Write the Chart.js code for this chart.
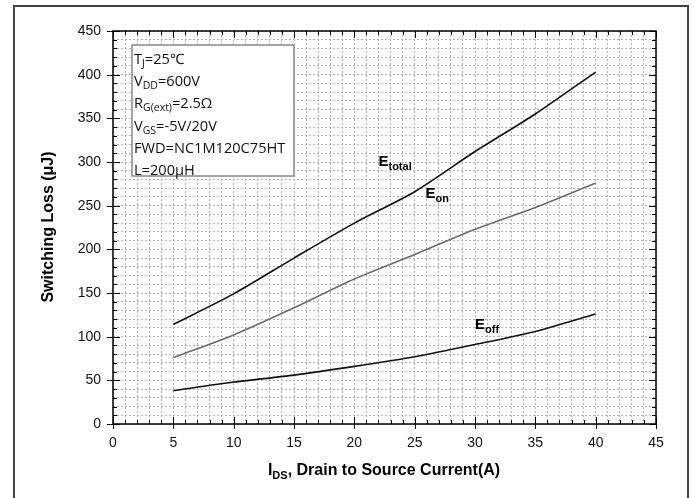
<!DOCTYPE html>
<html>
<head>
<meta charset="utf-8">
<script src="https://cdn.jsdelivr.net/npm/chart.js@4.4.0/dist/chart.umd.min.js"></script>
<style>
  html, body { margin: 0; padding: 0; background: #fff; }
  #wrap { position: relative; width: 695px; height: 498px; }
</style>
</head>
<body>
<div id="wrap"><canvas id="lossChart" width="695" height="498"></canvas></div>
<script>
// drain current (A)
const currents = [5, 10, 15, 20, 25, 30, 35, 40];
// switching losses (uJ)
const eTotal = [114, 149, 190, 230, 266, 312, 355, 403];
const eOn = [76, 102, 133, 166, 194, 223, 248, 276];
const eOff = [38, 48, 56, 66, 77, 91, 106, 126];
const xTickLabels = ["0", "5", "10", "15", "20", "25", "30", "35", "40", "45"];
const yTickLabels = ["0", "50", "100", "150", "200", "250", "300", "350", "400", "450"];
const conditions = [
	[["T", 0], ["J", 1], ["=25℃", 0]],
	[["V", 0], ["DD", 1], ["=600V", 0]],
	[["R", 0], ["G(ext)", 1], ["=2.5Ω", 0]],
	[["V", 0], ["GS", 1], ["=-5V/20V", 0]],
	[["FWD=NC1M120C75HT", 0]],
	[["L=200μH", 0]],
];
// curve name labels, placed in data coords [x, y]
const curveLabels = [
	{ parts: [["E", 0], ["total", 1]], at: [22, 295] },
	{ parts: [["E", 0], ["on", 1]], at: [25.9, 259] },
	{ parts: [["E", 0], ["off", 1]], at: [30, 109] },
];

function toPoints(ys) {
	return currents.map((x, i) => ({ x: x, y: ys[i] }));
}

// draws text made of normal / subscript pieces
function drawRich(ctx, parts, x, y, size, subSize, weight, family, drop) {
	let cx = x;
	for (const [txt, sub] of parts) {
		ctx.font = `${weight} ${sub ? subSize : size}px ${family}`;
		ctx.fillText(txt, cx, sub ? y + drop : y);
		cx += ctx.measureText(txt).width;
	}
	return cx - x;
}
function richWidth(ctx, parts, size, subSize, weight, family) {
	let w = 0;
	for (const [txt, sub] of parts) {
		ctx.font = `${weight} ${sub ? subSize : size}px ${family}`;
		w += ctx.measureText(txt).width;
	}
	return w;
}

const decorations = {
	id: "decorations",
	afterDraw(chart) {
		const { ctx, chartArea: { top, bottom, left, right }, scales: { x, y } } = chart;
		ctx.save();
		// outer frame
		ctx.strokeStyle = "#444";
		ctx.lineWidth = 2;
		ctx.strokeRect(14, 6, 674, 500);

		// inside tick marks on all four sides
		ctx.strokeStyle = "#000";
		ctx.lineWidth = 1;
		ctx.beginPath();
		for (let v = 0; v <= 45; v++) {
			const px = Math.round(x.getPixelForValue(v)) + 0.5;
			const len = v % 5 === 0 ? 7 : 4;
			ctx.moveTo(px, bottom); ctx.lineTo(px, bottom - len);
			ctx.moveTo(px, top); ctx.lineTo(px, top + len);
			if (v % 5 === 0) { ctx.moveTo(px, bottom); ctx.lineTo(px, bottom + 5); }
		}
		for (let v = 0; v <= 450; v += 10) {
			const py = Math.round(y.getPixelForValue(v)) + 0.5;
			const len = v % 50 === 0 ? 7 : 4;
			ctx.moveTo(left, py); ctx.lineTo(left + len, py);
			ctx.moveTo(right, py); ctx.lineTo(right - len, py);
			if (v % 50 === 0) { ctx.moveTo(left, py); ctx.lineTo(left - 6, py); }
		}
		ctx.stroke();

		// plot border
		ctx.lineWidth = 1.5;
		ctx.strokeRect(left, top, right - left, bottom - top);

		// conditions box
		const fam = "'Open Sans', 'Noto Sans', sans-serif";
		ctx.fillStyle = "#fff";
		ctx.fillRect(132, 45, 162, 131);
		ctx.strokeStyle = "#888";
		ctx.lineWidth = 1.5;
		ctx.strokeRect(132, 45, 162, 131);
		ctx.fillStyle = "#111";
		ctx.textBaseline = "alphabetic";
		ctx.textAlign = "left";
		conditions.forEach((parts, i) => {
			drawRich(ctx, parts, 134, 64 + i * 22.2, 14.6, 10.5, "normal", fam, 3);
		});

		// curve names
		ctx.fillStyle = "#000";
		for (const lab of curveLabels) {
			drawRich(ctx, lab.parts, x.getPixelForValue(lab.at[0]), y.getPixelForValue(lab.at[1]),
				15, 11, "bold", "'Liberation Sans', Arial, sans-serif", 4);
		}

		// axis titles
		const tfam = "'Liberation Sans', Arial, sans-serif";
		const xt = [["I", 0], ["DS", 1], [", Drain to Source Current(A)", 0]];
		const w = richWidth(ctx, xt, 16, 11, "bold", tfam);
		drawRich(ctx, xt, 384 - w / 2, 475, 16, 11, "bold", tfam, 4);

		ctx.translate(53, 227);
		ctx.rotate(-Math.PI / 2);
		ctx.font = "bold 16px " + tfam;
		ctx.textAlign = "center";
		ctx.fillText("Switching Loss (μJ)", 0, 0);
		ctx.restore();
	},
};

const lineStyle = { pointRadius: 0, borderWidth: 1.6, tension: 0.25, fill: false };

new Chart(document.getElementById("lossChart"), {
	type: "line",
	data: {
		datasets: [
			{ label: "Etotal", data: toPoints(eTotal), borderColor: "#111", ...lineStyle },
			{ label: "Eon", data: toPoints(eOn), borderColor: "#6a6a6a", ...lineStyle },
			{ label: "Eoff", data: toPoints(eOff), borderColor: "#111", ...lineStyle },
		],
	},
	plugins: [decorations],
	options: {
		responsive: false,
		animation: false,
		devicePixelRatio: 1,
		layout: { padding: { top: 31, right: 39, left: 0, bottom: 0 } },
		plugins: { legend: { display: false }, tooltip: { enabled: false } },
		scales: {
			x: {
				type: "linear",
				min: 0,
				max: 45,
				afterFit: (s) => { s.height = 74; },
				ticks: {
					stepSize: 1,
					autoSkip: false,
					maxRotation: 0,
					padding: 11,
					color: "#111",
					font: { family: "'Liberation Sans', Arial, sans-serif", size: 14 },
					callback: (v) => (v % 5 === 0 ? xTickLabels[v / 5] : ""),
				},
				grid: { color: "#b4b4b4", lineWidth: 1, drawTicks: false },
				border: { display: false, dash: [2, 2] },
			},
			y: {
				type: "linear",
				min: 0,
				max: 450,
				afterFit: (s) => { s.width = 113; },
				ticks: {
					stepSize: 10,
					autoSkip: false,
					padding: 12,
					color: "#111",
					font: { family: "'Liberation Sans', Arial, sans-serif", size: 14 },
					callback: (v) => (v % 50 === 0 ? yTickLabels[v / 50] : ""),
				},
				grid: { color: "#b4b4b4", lineWidth: 1, drawTicks: false },
				border: { display: false, dash: [2, 2] },
			},
		},
	},
});
</script>
</body>
</html>
